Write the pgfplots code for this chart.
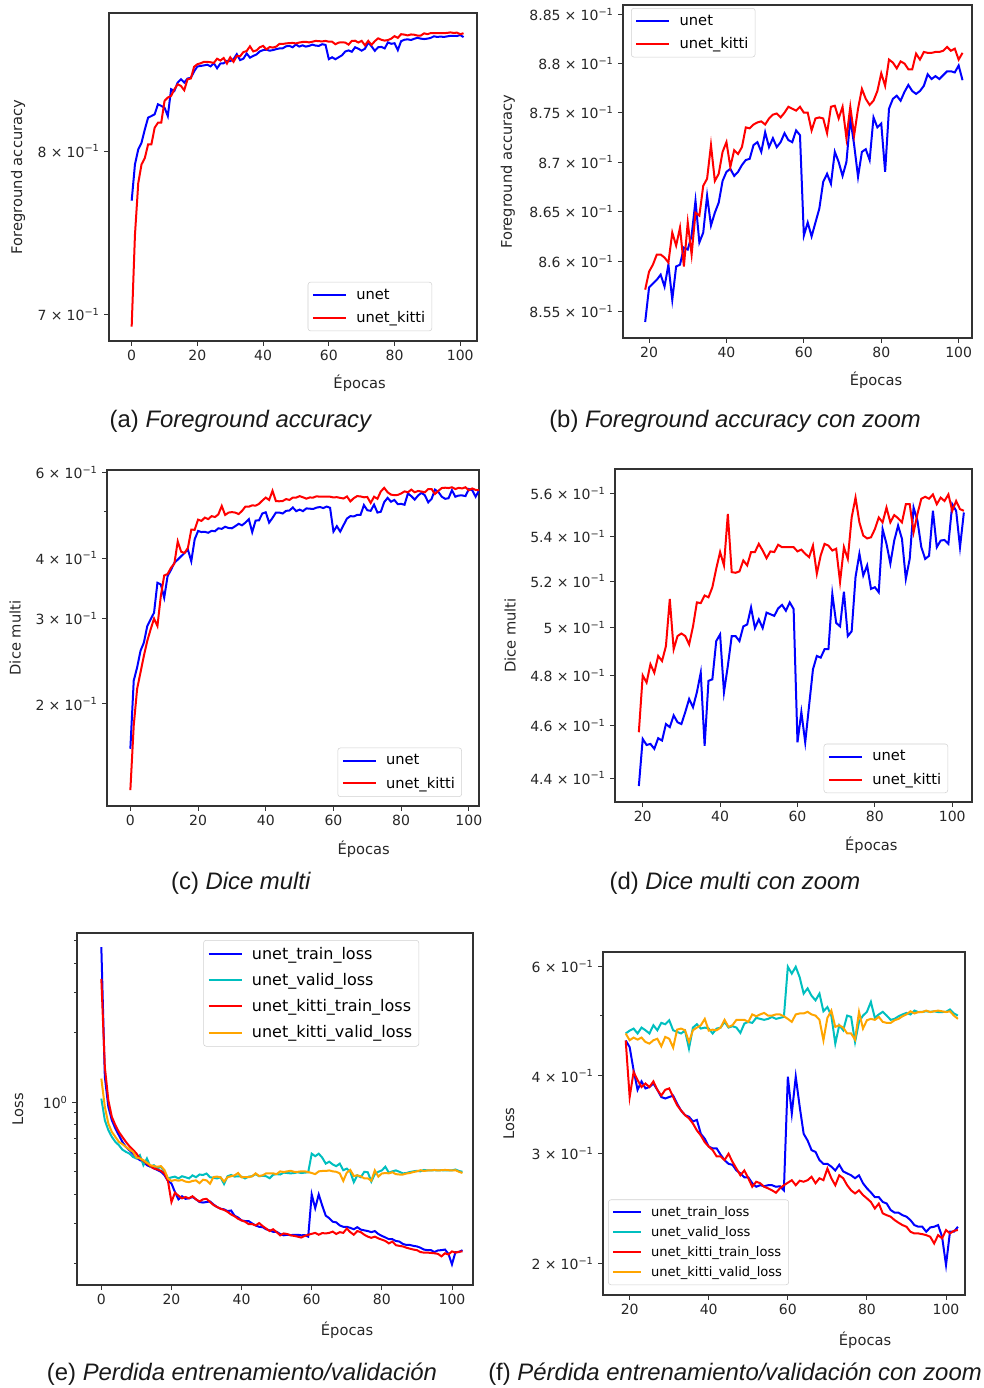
\documentclass[border=0pt]{standalone}
\usepackage{pgfplots}
\usepackage{pgfplotstable}
\pgfplotsset{compat=1.18}
\usepackage{fontspec}
\setmainfont{DejaVu Sans}
\newfontfamily\capfont{Liberation Sans}
\definecolor{mplc}{RGB}{0,191,191}
\definecolor{mplo}{RGB}{255,165,0}
\newcommand\sci[2]{#1\hspace{0.3em}×\hspace{0.3em}10\textsuperscript{#2}}
\tikzset{lw/.style={line width=1.5pt}}

% accuracy per epoch
\pgfplotstableread{
e unet kitti
0 0.7683 0.6929
1 0.7914 0.7470
2 0.8011 0.7793
3 0.8055 0.7914
4 0.8143 0.7956
5 0.8222 0.8044
6 0.8233 0.8044
7 0.8245 0.8155
8 0.8313 0.8188
9 0.8302 0.8188
10 0.8290 0.8336
11 0.8233 0.8359
12 0.8416 0.8370
13 0.8404 0.8416
14 0.8462 0.8450
15 0.8485 0.8439
16 0.8462 0.8409
17 0.8490 0.8485
18 0.8495 0.8490
19 0.8540 0.8572
20 0.8574 0.8590
21 0.8578 0.8597
22 0.8582 0.8607
23 0.8587 0.8607
24 0.8575 0.8604
25 0.8597 0.8599
26 0.8562 0.8629
27 0.8595 0.8616
28 0.8597 0.8634
29 0.8614 0.8595
30 0.8612 0.8639
31 0.8626 0.8607
32 0.8661 0.8649
33 0.8619 0.8646
34 0.8629 0.8676
35 0.8666 0.8683
36 0.8636 0.8717
37 0.8649 0.8681
38 0.8659 0.8688
39 0.8681 0.8710
40 0.8690 0.8720
41 0.8693 0.8695
42 0.8686 0.8712
43 0.8690 0.8708
44 0.8697 0.8715
45 0.8702 0.8735
46 0.8703 0.8734
47 0.8717 0.8738
48 0.8720 0.8740
49 0.8710 0.8741
50 0.8730 0.8738
51 0.8715 0.8744
52 0.8724 0.8748
53 0.8715 0.8749
54 0.8720 0.8745
55 0.8729 0.8750
56 0.8722 0.8756
57 0.8720 0.8754
58 0.8732 0.8752
59 0.8727 0.8756
60 0.8626 0.8750
61 0.8639 0.8750
62 0.8625 0.8732
63 0.8639 0.8744
64 0.8653 0.8745
65 0.8680 0.8744
66 0.8688 0.8729
67 0.8678 0.8756
68 0.8710 0.8757
69 0.8700 0.8744
70 0.8686 0.8756
71 0.8700 0.8724
72 0.8744 0.8756
73 0.8717 0.8727
74 0.8685 0.8754
75 0.8710 0.8774
76 0.8713 0.8764
77 0.8702 0.8758
78 0.8745 0.8762
79 0.8735 0.8772
80 0.8739 0.8790
81 0.8690 0.8777
82 0.8754 0.8804
83 0.8764 0.8801
84 0.8767 0.8795
85 0.8762 0.8802
86 0.8771 0.8800
87 0.8778 0.8794
88 0.8772 0.8794
89 0.8769 0.8810
90 0.8772 0.8804
91 0.8777 0.8812
92 0.8789 0.8811
93 0.8784 0.8811
94 0.8787 0.8812
95 0.8784 0.8812
96 0.8788 0.8813
97 0.8792 0.8817
98 0.8792 0.8813
99 0.8791 0.8815
100 0.8798 0.8804
101 0.8783 0.8811
}\acc

% dice multi per epoch
\pgfplotstableread{
e unet kitti
0 0.1616 0.1328
1 0.2234 0.1805
2 0.2378 0.2148
3 0.2573 0.2323
4 0.2677 0.2514
5 0.2895 0.2698
6 0.2989 0.2851
7 0.3085 0.2999
8 0.3556 0.2895
9 0.3528 0.3338
10 0.3312 0.3681
11 0.3670 0.3707
12 0.3780 0.3818
13 0.3908 0.3897
14 0.3970 0.4328
15 0.4033 0.4121
16 0.4097 0.4097
17 0.4163 0.4196
18 0.3939 0.4575
19 0.4370 0.4574
20 0.4548 0.4800
21 0.4525 0.4771
22 0.4529 0.4846
23 0.4510 0.4811
24 0.4551 0.4880
25 0.4542 0.4859
26 0.4606 0.4921
27 0.4594 0.5122
28 0.4640 0.4908
29 0.4613 0.4963
30 0.4606 0.4974
31 0.4653 0.4963
32 0.4705 0.4928
33 0.4672 0.5004
34 0.4732 0.5107
35 0.4811 0.5104
36 0.4522 0.5137
37 0.4778 0.5129
38 0.4784 0.5173
39 0.4942 0.5255
40 0.4970 0.5330
41 0.4732 0.5270
42 0.4839 0.5505
43 0.4963 0.5240
44 0.4963 0.5237
45 0.4942 0.5243
46 0.5004 0.5292
47 0.5012 0.5270
48 0.5085 0.5330
49 0.4997 0.5330
50 0.5034 0.5367
51 0.4997 0.5337
52 0.5063 0.5302
53 0.5056 0.5333
54 0.5049 0.5330
55 0.5081 0.5363
56 0.5096 0.5352
57 0.5071 0.5352
58 0.5107 0.5352
59 0.5078 0.5352
60 0.4535 0.5333
61 0.4653 0.5341
62 0.4535 0.5322
63 0.4679 0.5307
64 0.4825 0.5359
65 0.4880 0.5233
66 0.4873 0.5315
67 0.4908 0.5367
68 0.4908 0.5359
69 0.5144 0.5337
70 0.5019 0.5345
71 0.5004 0.5196
72 0.5154 0.5352
73 0.4963 0.5299
74 0.4983 0.5489
75 0.5218 0.5582
76 0.5322 0.5466
77 0.5225 0.5405
78 0.5270 0.5392
79 0.5166 0.5397
80 0.5173 0.5435
81 0.5151 0.5489
82 0.5435 0.5466
83 0.5367 0.5535
84 0.5278 0.5466
85 0.5382 0.5500
86 0.5451 0.5485
87 0.5390 0.5466
88 0.5210 0.5551
89 0.5299 0.5551
90 0.5535 0.5420
91 0.5474 0.5505
92 0.5352 0.5577
93 0.5299 0.5586
94 0.5313 0.5577
95 0.5520 0.5597
96 0.5352 0.5551
97 0.5382 0.5582
98 0.5385 0.5566
99 0.5367 0.5597
100 0.5551 0.5520
101 0.5520 0.5566
102 0.5352 0.5528
103 0.5512 0.5520
}\dice

% losses per epoch
\pgfplotstableread{
e utr uva ktr kva
0 4.69 1.037 3.42 1.266
1 1.287 0.836 1.42 0.955
2 0.955 0.757 1.02 0.809
3 0.836 0.708 0.864 0.744
4 0.770 0.674 0.796 0.708
5 0.720 0.652 0.744 0.674
6 0.674 0.624 0.708 0.659
7 0.641 0.610 0.674 0.641
8 0.620 0.600 0.645 0.624
9 0.600 0.580 0.624 0.610
10 0.577 0.571 0.600 0.577
11 0.5615 0.590 0.571 0.571
12 0.5535 0.534 0.558 0.5615
13 0.534 0.571 0.543 0.547
14 0.526 0.526 0.529 0.534
15 0.517 0.534 0.517 0.529
16 0.509 0.517 0.512 0.526
17 0.500 0.526 0.505 0.529
18 0.4835 0.500 0.491 0.509
19 0.456 0.468 0.456 0.468
20 0.445 0.473 0.370 0.4564
21 0.4085 0.4766 0.406 0.461
22 0.380 0.468 0.394 0.4575
23 0.392 0.4783 0.384 0.461
24 0.382 0.4736 0.389 0.4535
25 0.384 0.468 0.384 0.4508
26 0.389 0.4825 0.392 0.4564
27 0.380 0.4736 0.380 0.459
28 0.370 0.4867 0.372 0.4464
29 0.368 0.4843 0.380 0.4621
30 0.370 0.4915 0.382 0.459
31 0.372 0.4736 0.370 0.4442
32 0.361 0.4707 0.359 0.4747
33 0.352 0.468 0.352 0.4766
34 0.346 0.473 0.346 0.4736
35 0.344 0.4426 0.342 0.4535
36 0.338 0.4783 0.3355 0.4736
37 0.340 0.4843 0.327 0.4783
38 0.323 0.4766 0.321 0.4825
39 0.317 0.4783 0.313 0.494
40 0.308 0.4766 0.308 0.473
41 0.306 0.468 0.304 0.4747
42 0.306 0.4766 0.297 0.4736
43 0.299 0.4783 0.297 0.4783
44 0.293 0.4885 0.293 0.4922
45 0.289 0.4783 0.300 0.4795
46 0.288 0.4807 0.2912 0.4825
47 0.282 0.4783 0.284 0.4922
48 0.279 0.469 0.277 0.4922
49 0.275 0.4855 0.282 0.4922
50 0.275 0.4885 0.274 0.4885
51 0.269 0.4867 0.2655 0.5022
52 0.2655 0.4958 0.2705 0.4988
53 0.267 0.494 0.269 0.5022
54 0.266 0.4922 0.2655 0.505
55 0.267 0.494 0.264 0.5
56 0.267 0.4976 0.262 0.5
57 0.2655 0.494 0.2597 0.5022
58 0.266 0.4958 0.264 0.5022
59 0.262 0.4976 0.267 0.4988
60 0.399 0.599 0.2695 0.494
61 0.348 0.584 0.272 0.4885
62 0.399 0.599 0.267 0.5022
63 0.357 0.576 0.2715 0.504
64 0.323 0.5424 0.2705 0.504
65 0.315 0.553 0.272 0.507
66 0.304 0.538 0.2755 0.5022
67 0.302 0.529 0.269 0.5
68 0.293 0.5424 0.274 0.4922
69 0.289 0.508 0.272 0.4564
70 0.289 0.516 0.284 0.4958
71 0.286 0.5 0.274 0.5094
72 0.282 0.4508 0.267 0.4795
73 0.288 0.4825 0.277 0.4825
74 0.281 0.4736 0.274 0.4783
75 0.279 0.5 0.267 0.468
76 0.277 0.4976 0.262 0.468
77 0.274 0.4535 0.259 0.4575
78 0.277 0.4885 0.262 0.507
79 0.269 0.5 0.2575 0.4766
80 0.264 0.507 0.2543 0.4915
81 0.260 0.526 0.251 0.494
82 0.2555 0.4958 0.245 0.4922
83 0.2555 0.5022 0.2495 0.4976
84 0.251 0.507 0.2406 0.4885
85 0.2495 0.5 0.239 0.4867
86 0.2436 0.4922 0.2377 0.4867
87 0.2412 0.494 0.2347 0.4915
88 0.2412 0.4988 0.2324 0.494
89 0.239 0.5022 0.2304 0.4988
90 0.2377 0.505 0.229 0.5022
91 0.2347 0.5022 0.2248 0.508
92 0.2304 0.5094 0.2234 0.504
93 0.229 0.5066 0.2234 0.5066
94 0.229 0.507 0.2228 0.5066
95 0.2248 0.508 0.222 0.5094
96 0.2284 0.507 0.2207 0.5066
97 0.229 0.508 0.2153 0.508
98 0.2304 0.5066 0.222 0.5094
99 0.2207 0.5066 0.2194 0.508
100 0.1988 0.507 0.2262 0.5066
101 0.2248 0.5115 0.2234 0.508
102 0.2248 0.504 0.2256 0.5
103 0.229 0.5 0.2262 0.494
}\loss

\pgfplotsset{
  mplax/.style={
    scale only axis,
    axis line style={black!80, line width=0.9pt},
    tick align=outside, tick pos=left,
    major tick length=3.5pt, minor tick length=2pt,
    tick style={black!80, line width=0.7pt},
    tick label style={font=\fontsize{10.5}{12}\selectfont, text=black!85},
    label style={font=\fontsize{11}{13}\selectfont, text=black!85},
    /pgf/number format/assume math mode=true,
    xlabel={Épocas},
    legend cell align=left,
    legend style={draw=black!18, rounded corners=2pt, fill=white,
      font=\fontsize{11}{13}\selectfont, row sep=3.5pt, inner sep=3pt,
      /tikz/every odd column/.style={column sep=5pt}},
    legend image post style={xscale=1.45},
  },
}

\begin{document}
\begin{tikzpicture}
\useasboundingbox (0,0) rectangle (737.25pt,-1041pt);

% (a)
\begin{axis}[mplax, ymode=log, at={(81.75pt,-9.75pt)}, anchor=north west,
  width=276pt, height=246pt,
  xmin=-6.9, xmax=105.1, ymin=0.6848, ymax=0.8958,
  xtick={0,20,...,100},
  ytick={0.7,0.8}, yticklabels={\sci{7}{−1},\sci{8}{−1}},
  minor ytick={},
  ylabel={Foreground accuracy},
  ylabel style={at={(axis description cs:-0.247,0.5)}, anchor=center},
  xlabel style={at={(axis description cs:0.681,-0.128)}, anchor=center},
  legend style={at={(axis description cs:0.878,0.03)}, anchor=south east}]
\addplot[lw, blue, mark=none] table[x=e, y=unet] {\acc};
\addplot[lw, red, mark=none] table[x=e, y=kitti] {\acc};
\legend{unet, unet\_kitti}
\end{axis}

% (b)
\begin{axis}[mplax, ymode=log, at={(467.25pt,-3.75pt)}, anchor=north west,
  width=261.75pt, height=249.75pt,
  xmin=13.27, xmax=103.45, ymin=0.8524, ymax=0.886,
  xtick={20,40,...,100},
  ytick={0.855,0.86,0.865,0.87,0.875,0.88,0.885},
  yticklabels={\sci{8.55}{−1},\sci{8.6}{−1},\sci{8.65}{−1},\sci{8.7}{−1},\sci{8.75}{−1},\sci{8.8}{−1},\sci{8.85}{−1}},
  minor ytick={},
  ylabel={Foreground accuracy},
  ylabel style={at={(axis description cs:-0.33,0.5)}, anchor=center},
  xlabel style={at={(axis description cs:0.725,-0.126)}, anchor=center},
  legend style={at={(axis description cs:0.023,0.991)}, anchor=north west}]
\addplot[lw, blue, mark=none, restrict x to domain=19:110] table[x=e, y=unet] {\acc};
\addplot[lw, red, mark=none, restrict x to domain=19:110] table[x=e, y=kitti] {\acc};
\legend{unet, unet\_kitti}
\end{axis}

% (c)
\begin{axis}[mplax, ymode=log, at={(80.25pt,-352.5pt)}, anchor=north west,
  width=279pt, height=252pt,
  xmin=-6.9, xmax=103, ymin=0.1231, ymax=0.6076,
  xtick={0,20,...,100},
  ytick={0.2,0.3,0.4,0.6}, yticklabels={\sci{2}{−1},\sci{3}{−1},\sci{4}{−1},\sci{6}{−1}},
  minor ytick={0.5},
  ylabel={Dice multi},
  ylabel style={at={(axis description cs:-0.247,0.5)}, anchor=center},
  xlabel style={at={(axis description cs:0.69,-0.128)}, anchor=center},
  legend style={at={(axis description cs:0.954,0.027)}, anchor=south east}]
\addplot[lw, blue, mark=none] table[x=e, y=unet] {\dice};
\addplot[lw, red, mark=none] table[x=e, y=kitti] {\dice};
\legend{unet, unet\_kitti}
\end{axis}

% (d)
\begin{axis}[mplax, ymode=log, at={(461.25pt,-351.75pt)}, anchor=north west,
  width=267.75pt, height=249.75pt,
  xmin=12.84, xmax=105.1, ymin=0.4311, ymax=0.5719,
  xtick={20,40,...,100},
  ytick={0.44,0.46,0.48,0.5,0.52,0.54,0.56},
  yticklabels={\sci{4.4}{−1},\sci{4.6}{−1},\sci{4.8}{−1},\sci{5}{−1},\sci{5.2}{−1},\sci{5.4}{−1},\sci{5.6}{−1}},
  minor ytick={},
  ylabel={Dice multi},
  ylabel style={at={(axis description cs:-0.294,0.5)}, anchor=center},
  xlabel style={at={(axis description cs:0.718,-0.129)}, anchor=center},
  legend style={at={(axis description cs:0.933,0.027)}, anchor=south east}]
\addplot[lw, blue, mark=none, restrict x to domain=19:110] table[x=e, y=unet] {\dice};
\addplot[lw, red, mark=none, restrict x to domain=19:110] table[x=e, y=kitti] {\dice};
\legend{unet, unet\_kitti}
\end{axis}

% (e)
\begin{axis}[mplax, ymode=log, at={(57.75pt,-699.75pt)}, anchor=north west,
  width=297pt, height=264pt,
  xmin=-6.94, xmax=106, ymin=0.1618, ymax=5.4,
  xtick={0,20,...,100},
  ytick={1}, yticklabels={10\textsuperscript{0}},
  minor ytick={0.2,0.3,0.4,0.5,0.6,0.7,0.8,0.9,2,3,4,5},
  ylabel={Loss},
  ylabel style={at={(axis description cs:-0.149,0.5)}, anchor=center},
  xlabel style={at={(axis description cs:0.682,-0.128)}, anchor=center},
  legend style={at={(axis description cs:0.864,0.98)}, anchor=north east,
    font=\fontsize{12}{14}\selectfont, row sep=5pt}]
\addplot[lw, blue, mark=none] table[x=e, y=utr] {\loss};
\addplot[lw, mplc, mark=none] table[x=e, y=uva] {\loss};
\addplot[lw, red, mark=none] table[x=e, y=ktr] {\loss};
\addplot[lw, mplo, mark=none] table[x=e, y=kva] {\loss};
\legend{unet\_train\_loss, unet\_valid\_loss, unet\_kitti\_train\_loss, unet\_kitti\_valid\_loss}
\end{axis}

% (f)
\begin{axis}[mplax, ymode=log, at={(452.25pt,-714pt)}, anchor=north west,
  width=271.5pt, height=257.25pt,
  xmin=13.26, xmax=104.8, ymin=0.1779, ymax=0.6326,
  xtick={20,40,...,100},
  ytick={0.2,0.3,0.4,0.6}, yticklabels={\sci{2}{−1},\sci{3}{−1},\sci{4}{−1},\sci{6}{−1}},
  minor ytick={0.5},
  ylabel={Loss},
  ylabel style={at={(axis description cs:-0.26,0.5)}, anchor=center},
  xlabel style={at={(axis description cs:0.724,-0.131)}, anchor=center},
  legend image post style={xscale=0.83},
  legend style={at={(axis description cs:0.014,0.029)}, anchor=south west,
    font=\fontsize{9.8}{11}\selectfont, row sep=2pt}]
\addplot[lw, blue, mark=none, restrict x to domain=19:110] table[x=e, y=utr] {\loss};
\addplot[lw, mplc, mark=none, restrict x to domain=19:110] table[x=e, y=uva] {\loss};
\addplot[lw, red, mark=none, restrict x to domain=19:110] table[x=e, y=ktr] {\loss};
\addplot[lw, mplo, mark=none, restrict x to domain=19:110] table[x=e, y=kva] {\loss};
\legend{unet\_train\_loss, unet\_valid\_loss, unet\_kitti\_train\_loss, unet\_kitti\_valid\_loss}
\end{axis}

% captions
\begin{scope}[every node/.style={font=\capfont\fontsize{17.9}{20}\selectfont, text=black!90}]
\node at (180.75pt,-315.75pt) {(a) \textit{Foreground accuracy}};
\node at (551.25pt,-315.75pt) {(b) \textit{Foreground accuracy con zoom}};
\node at (180.75pt,-662.25pt) {(c) \textit{Dice multi}};
\node at (551.25pt,-662.25pt) {(d) \textit{Dice multi con zoom}};
\node at (181.5pt,-1030.5pt) {(e) \textit{Perdida entrenamiento/validación}};
\node at (551.25pt,-1030.5pt) {(f) \textit{Pérdida entrenamiento/validación con zoom}};
\end{scope}
\end{tikzpicture}
\end{document}
